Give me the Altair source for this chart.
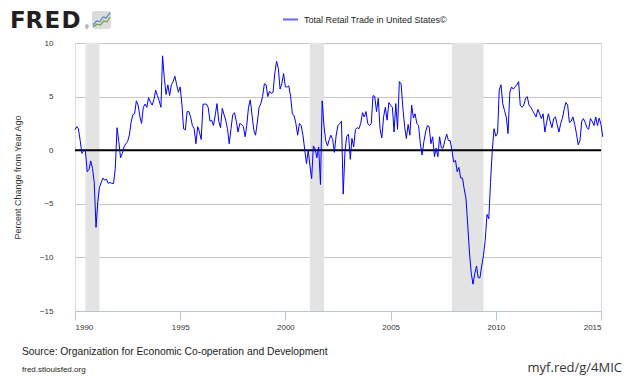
import altair as alt
import pandas as pd

# ---- data (percent change from year ago, monthly) ----
values_1990s = [
    1.9, 2.2, 2.0, 0.9, -0.3, 0.0, -0.1, -2.0, -1.8, -1.0, -1.7, -3.0,
    -7.2, -4.8, -3.5, -3.0, -2.6, -2.8, -2.7, -3.1, -3.0, -3.1, -3.1, -1.7,
    2.1, 0.8, -0.7, -0.3, 0.3, 0.6, 0.8, 1.4, 2.6, 3.3, 3.4, 4.6,
    4.2, 3.1, 2.5, 4.0, 4.3, 4.0, 4.9, 4.5, 4.2, 4.7, 5.6, 5.1,
    4.6, 4.0, 8.8, 6.7, 5.2, 6.1, 5.1, 6.1, 6.4, 6.9, 6.1, 5.4,
    5.9, 4.2, 2.0, 1.9, 3.6, 3.6, 3.1, 2.3, 2.0, 0.6, 2.2, 1.7,
    1.0, 4.3, 4.3, 4.3, 4.0, 2.7, 2.8, 2.3, 3.3, 4.35, 2.7, 2.1,
    3.9, 3.3, 2.8, 2.0, 0.6, 2.0, 3.3, 3.5, 2.7, 1.7, 2.5, 2.4,
    2.2, 1.25, 2.3, 4.0, 4.7, 3.3, 1.9, 1.4, 2.6, 4.0, 4.35, 5.0,
    6.2, 6.1, 5.0, 5.5, 5.3, 5.4, 7.15, 8.3, 7.6, 5.7, 6.2, 7.15,
]
values_2000s = [
    5.9, 5.9, 6.0, 5.0, 3.4, 3.2, 2.5, 1.4, 2.5, 2.3, 1.4, 0.1,
    -1.25, 0.0, -1.4, -2.65, 0.4, 0.1, -0.7, 0.3, -3.2, 4.6, 2.3, 0.9,
    0.4, 1.0, 1.4, 1.0, -0.2, 1.4, 2.3, 2.5, 2.7, -4.1, -0.1, 1.3,
    1.5, -0.85, 1.1, 0.3, 1.95, 2.1, 2.0, 2.5, 3.5, 3.1, 3.6, 2.5,
    2.3, 2.5, 5.1, 5.0, 3.6, 4.85, 2.0, 1.15, 3.1, 4.0, 2.8, 4.45,
    4.2, 4.0, 1.7, 4.35, 1.95, 6.4, 6.2, 4.0, 2.2, 1.1, 2.4, 1.4,
    4.2, 3.0, 3.4, 2.5, 2.3, 0.6, -0.45, 0.8, 1.7, 2.3, 2.2, 0.6,
    1.25, -0.6, 0.2, -0.6, 1.25, 0.2, 0.2, 0.9, 1.5, 0.9, 0.9, 0.0,
    -1.1, -0.95, -2.0, -1.6, -2.6, -2.6, -3.6, -4.5, -7.0, -9.6, -11.5, -12.5,
    -11.5, -10.8, -11.9, -11.9, -10.8, -9.8, -8.4, -6.0, -6.4, -3.0, 0.0, 2.0,
]
values_2010s = [
    1.3, 1.6, 5.6, 6.1, 4.35, 3.7, 3.1, 1.55, 5.4, 5.9, 5.7, 5.9,
    6.1, 6.4, 4.2, 4.0, 4.2, 4.85, 5.0, 4.2, 4.0, 3.7, 3.4, 3.1,
    3.8, 3.4, 2.95, 3.4, 1.7, 2.6, 3.4, 2.7, 2.1, 2.95, 3.1, 2.4,
    1.7, 2.5, 2.95, 3.8, 4.45, 4.2, 2.6, 2.7, 3.1, 2.4, 1.55, 0.5,
    0.9, 2.7, 2.95, 2.6, 2.1, 1.95, 2.95, 2.7, 2.3, 3.1, 2.3, 3.0,
    2.4, 1.25,
]
series_name = "Total Retail Trade in United States©"
start_month = "1990-01-01"

rec_start = ["1990-07-01", "2001-03-01", "2007-12-01"]
rec_end = ["1991-03-01", "2001-11-01", "2009-06-01"]

y_ticks = [-15, -10, -5, 0, 5, 10]
x_tick_years = [1990, 1995, 2000, 2005, 2010, 2015]

source_text = "Source: Organization for Economic Co-operation and Development"
site_text = "fred.stlouisfed.org"
short_url = "myf.red/g/4MIC"
logo_letters = ["F", "R", "E", "D"]

# ---- tables ----
values = values_1990s + values_2000s + values_2010s
df = pd.DataFrame({
    "date": pd.date_range(start_month, periods=len(values), freq="MS"),
    "value": values,
    "series": series_name,
})
rec = pd.DataFrame({"start": pd.to_datetime(rec_start), "end": pd.to_datetime(rec_end)})
one = pd.DataFrame({"k": [0]})

W, H = 526, 268
FONT = "Liberation Sans"

x_scale = alt.Scale(domain=[alt.DateTime(year=1990, month=1, date=1),
                            alt.DateTime(year=2015, month=1, date=1)])
y_scale = alt.Scale(domain=[-15, 10], nice=False, zero=False)

x_axis = alt.Axis(
    values=[alt.DateTime(year=y, month=1, date=1) for y in x_tick_years],
    format="%Y", title=None, grid=False,
    domainColor="#b7c7d9", tickColor="#b7c7d9", tickSize=9, labelPadding=3,
    labelFont=FONT, labelFontSize=8, labelColor="#333333",
)
y_axis = alt.Axis(
    values=y_ticks, title="Percent Change from Year Ago",
    domain=False, ticks=False, labelPadding=22, grid=True,
    gridColor="#c6c6c6", gridWidth=1,
    labelFont=FONT, labelFontSize=8, labelColor="#333333",
    titleFont=FONT, titleFontSize=9, titleFontWeight="normal",
    titleColor="#333333", titlePadding=17,
)

X = alt.X("date:T", scale=x_scale, axis=x_axis)
Y = alt.Y("value:Q", scale=y_scale, axis=y_axis)

shade = alt.Chart(rec).mark_rect(color="#e3e3e3").encode(
    x=alt.X("start:T", scale=x_scale, axis=x_axis),
    x2="end:T",
    y=alt.value(0), y2=alt.value(H),
)

zero = alt.Chart(pd.DataFrame({"value": [0]})).mark_rule(
    color="black", strokeWidth=2
).encode(y=Y)

line = alt.Chart(df).mark_line(strokeWidth=1, clip=False).encode(
    x=X, y=Y,
    color=alt.Color(
        "series:N",
        scale=alt.Scale(range=["#0000ff"]),
        legend=alt.Legend(
            orient="none", legendX=207, legendY=-32, title=None,
            symbolType="stroke", symbolSize=225, symbolStrokeWidth=2,
            symbolOpacity=0.6, labelFont=FONT, labelFontSize=9,
            labelColor="#222222", labelOffset=5, padding=0,
        ),
    ),
)

# FRED logo: letters placed one by one to get the wide, tight logotype
letter_x = [-65, -49.5, -30.5, -13.5]
fred_layers = [
    alt.Chart(one).mark_text(
        text=ch, font="DejaVu Sans", fontSize=23, fontWeight="bold",
        align="left", baseline="alphabetic", color="#231f20",
    ).encode(x=alt.value(lx), y=alt.value(-14.7))
    for ch, lx in zip(logo_letters, letter_x)
]
reg = alt.Chart(one).mark_text(
    text="®", font=FONT, fontSize=5, align="left", baseline="alphabetic",
    color="#231f20",
).encode(x=alt.value(10), y=alt.value(-14.5))

icon_bg = alt.Chart(one).mark_rect(color="#dcdcdc", cornerRadius=2).encode(
    x=alt.value(17), x2=alt.value(36), y=alt.value(-32), y2=alt.value(-14)
)

blue_pts = [(18, -18), (22, -22.3), (24.5, -21), (28.5, -26.3), (31, -24.7), (35, -30.3)]
green_pts = [(18.5, -16.3), (22.3, -19), (25, -17.7), (29, -22.3), (31.7, -21), (35, -25.7)]
icon_layers = []
for pts, col in ((blue_pts, "#4f86c0"), (green_pts, "#6e9e3c")):
    for (x1, y1), (x2, y2) in zip(pts[:-1], pts[1:]):
        icon_layers.append(
            alt.Chart(one).mark_rule(color=col, strokeWidth=1.2).encode(
                x=alt.value(x1), y=alt.value(y1), x2=alt.value(x2), y2=alt.value(y2)
            )
        )

source = alt.Chart(one).mark_text(
    text=source_text, font=FONT, fontSize=10.3, align="left",
    baseline="middle", color="#222222",
).encode(x=alt.value(-53), y=alt.value(309))

site = alt.Chart(one).mark_text(
    text=site_text, font=FONT, fontSize=8, align="left",
    baseline="middle", color="#222222",
).encode(x=alt.value(-53), y=alt.value(327))

url = alt.Chart(one).mark_text(
    text=short_url, font="Open Sans", fontSize=13, align="right",
    baseline="middle", color="#333333",
).encode(x=alt.value(547), y=alt.value(325))

chart = alt.layer(
    shade, zero, line, *fred_layers, reg, icon_bg, *icon_layers, source, site, url
).properties(
    width=W, height=H,
    autosize=alt.AutoSizeParams(type="none"),
    padding={"left": 67, "top": 35, "right": 21, "bottom": 67},
).configure_view(stroke=None).configure(background="white")

chart.save("out.html", embed_options={"renderer": "svg", "actions": False})
